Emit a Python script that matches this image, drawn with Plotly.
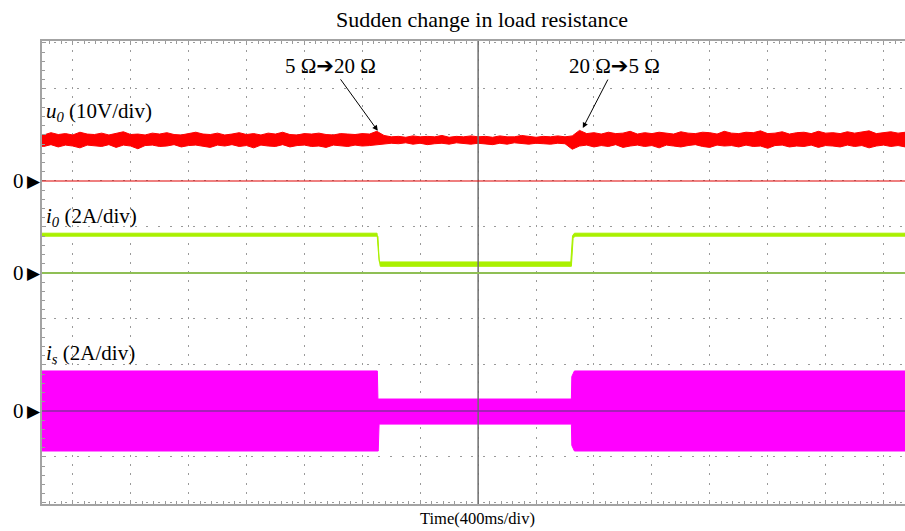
import plotly.graph_objects as go

# ---------------- data ----------------
# time in ms relative to the screen centre (400 ms/div)
x_range_ms = [-3012, 2948]

# u0 noise envelope (V), sampled every 50 ms from -3050 ms
u0_t = [-3050 + 50 * i for i in range(121)]
u0_upper = [10.2, 10.0, 10.5, 10.1, 10.3, 10.0, 10.6, 10.2, 10.1, 10.4, 10.0, 10.3,
            10.7, 10.1, 10.2, 10.0, 10.4, 10.2, 10.5, 10.1, 10.0, 10.3, 10.6, 10.2,
            10.1, 10.4, 10.0, 10.2, 10.5, 10.1, 10.3, 10.0, 10.4, 10.2, 10.6, 10.1,
            10.0, 10.3, 10.2, 10.4, 10.1, 10.0, 10.3, 10.2, 10.1, 10.3, 10.2, 10.8,
            9.9, 9.6, 9.7, 9.5, 9.8, 9.6, 9.7, 9.6, 9.9, 9.5, 9.7, 9.6, 9.8,
            9.6, 9.7, 9.5, 9.8, 9.6, 9.6, 9.9, 9.7, 9.5, 9.7, 9.6, 9.8, 9.6,
            9.8, 11.0, 10.3, 10.5, 10.2, 10.6, 10.3, 10.4, 10.8, 10.2, 10.5, 10.3,
            10.6, 10.4, 10.2, 10.7, 10.4, 10.3, 10.6, 10.5, 10.2, 10.8, 10.4, 10.3,
            10.6, 10.5, 10.9, 10.3, 10.4, 10.7, 10.2, 10.5, 10.6, 10.3, 10.8, 10.4,
            10.5, 10.3, 10.7, 10.4, 10.6, 10.9, 10.3, 10.5, 10.7, 10.4, 10.6]
u0_lower = [7.7, 7.5, 7.9, 7.4, 7.8, 7.6, 7.2, 7.8, 7.7, 7.5, 7.9, 7.3,
            7.8, 7.6, 7.0, 7.7, 7.8, 7.5, 7.6, 7.9, 7.4, 7.7, 7.8, 7.5,
            7.3, 7.8, 7.6, 7.9, 7.5, 7.7, 7.2, 7.8, 7.6, 7.5, 7.9, 7.4,
            7.7, 7.8, 7.5, 7.6, 7.3, 7.8, 7.7, 7.5, 7.8, 7.6, 7.7, 7.8,
            8.0, 8.2, 8.1, 8.3, 8.0, 8.2, 7.9, 8.1, 8.2, 8.0, 8.3, 8.1, 8.0,
            8.2, 8.1, 7.9, 8.2, 8.0, 8.3, 8.1, 8.0, 8.2, 8.1, 8.0, 8.2, 8.1,
            6.9, 7.6, 7.8, 7.4, 7.7, 7.5, 7.9, 7.3, 7.6, 7.8, 7.5, 7.7,
            7.2, 7.8, 7.6, 7.4, 7.7, 7.9, 7.5, 7.3, 7.8, 7.6, 7.7, 7.4,
            7.8, 7.5, 7.6, 7.1, 7.7, 7.8, 7.4, 7.6, 7.5, 7.8, 7.3, 7.7,
            7.6, 7.4, 7.8, 7.5, 7.7, 7.2, 7.6, 7.8, 7.5, 7.7, 7.4]

# i0 band (A)
i0_t_upper = [-3050, -698, -690, -682, 640, 646, 652, 665, 2950]
i0_upper = [1.73, 1.73, 1.00, 0.48, 0.48, 1.30, 1.62, 1.73, 1.73]
i0_t_lower = [-3050, -692, -684, -676, 644, 650, 656, 668, 2950]
i0_lower = [1.60, 1.60, 0.60, 0.29, 0.29, 0.50, 1.50, 1.60, 1.60]

# is envelope (A)
is_t_upper = [-3050, -696, -692, 644, 647, 665, 2950]
is_upper = [1.74, 1.74, 0.52, 0.52, 1.50, 1.74, 1.74]
is_t_lower = [-3050, -690, -684, 644, 647, 665, 2950]
is_lower = [-1.74, -1.74, -0.57, -0.57, -1.50, -1.74, -1.74]

# channel scales: (units per division, zero position in divisions)
u0_scale, u0_offset = 10, 2
i0_scale, i0_offset = 2, 0
is_scale, is_offset = 2, -3
div_range = [-5.022, 5.043]            # screen height, in divisions

# arrow tips of the load-change notes (ms, V on u0)
annot_tips = [(-693, 10.9), (723, 11.5)]

# ---------------- figure ----------------
SERIF = "Liberation Serif, Times New Roman, serif"
GRID = "#9a9a9a"
BORDER = "#a3a3a3"
TICK = "#8c8c8c"

def to_div(vals, scale, offset):
    return [v / scale + offset for v in vals]

def band(t_up, up, t_lo, lo, scale, offset, color):
    y = to_div(up, scale, offset) + to_div(lo, scale, offset)[::-1]
    return go.Scatter(x=list(t_up) + list(t_lo)[::-1], y=y,
                      fill="toself", fillcolor=color, mode="lines",
                      line=dict(color=color, width=1),
                      hoverinfo="skip", showlegend=False)

fig = go.Figure()
fig.add_trace(band(u0_t, u0_upper, u0_t, u0_lower, u0_scale, u0_offset, "#ff0000"))
fig.add_trace(band(i0_t_upper, i0_upper, i0_t_lower, i0_lower, i0_scale, i0_offset, "#aaf000"))
fig.add_trace(band(is_t_upper, is_upper, is_t_lower, is_lower, is_scale, is_offset, "#ff00ff"))

fig.update_layout(
    width=905, height=531,
    margin=dict(l=42, r=0, t=41, b=27),
    paper_bgcolor="white", plot_bgcolor="rgba(0,0,0,0)",
    showlegend=False,
    title=dict(text="Sudden change in load resistance", x=0.5326, xref="container",
               xanchor="center", y=0.964, yref="container", yanchor="middle",
               font=dict(family=SERIF, size=22, color="black")),
    xaxis=dict(range=x_range_ms, tick0=0, dtick=400, showticklabels=False,
               showgrid=True, gridcolor=GRID, gridwidth=1, griddash="2px,7.2px",
               zeroline=False,
               showline=True, linecolor=BORDER, linewidth=2, mirror="allticks",
               ticks="inside", ticklen=4, tickcolor=GRID, tickwidth=1,
               minor=dict(ticks="inside", dtick=80, ticklen=3, tickcolor=GRID, showgrid=False)),
    yaxis=dict(range=div_range, tick0=0, dtick=1, showticklabels=False,
               showgrid=True, gridcolor=GRID, gridwidth=1, griddash="2px,9.6px",
               zeroline=False, showline=True, linecolor=BORDER, linewidth=2,
               ticks="inside", ticklen=4, tickcolor=GRID, tickwidth=1,
               minor=dict(ticks="inside", dtick=0.2, ticklen=3, tickcolor=GRID, showgrid=False)),
)

# centre cross-hair: vertical line drawn over the traces, plus tick marks
fig.add_shape(type="line", xref="x", x0=0, x1=0, yref="paper", y0=0, y1=1,
              line=dict(color="#6e6e6e", width=1.5), layer="above")
xc = (0 - x_range_ms[0]) / (x_range_ms[1] - x_range_ms[0])
yc = (0 - div_range[0]) / (div_range[1] - div_range[0])
for name, side_ticks in (("yaxis2", "inside"), ("yaxis3", "outside")):
    fig.layout[name] = dict(range=div_range, overlaying="y", anchor="free", position=xc,
                            showgrid=False, zeroline=False, showline=False,
                            showticklabels=False, tick0=0, dtick=1,
                            ticks=side_ticks, ticklen=4, tickcolor=TICK,
                            minor=dict(ticks=side_ticks, dtick=0.2, ticklen=4,
                                       tickcolor=TICK))
for name, side_ticks in (("xaxis2", "inside"), ("xaxis3", "outside")):
    fig.layout[name] = dict(range=x_range_ms, overlaying="x", anchor="free", position=yc,
                            showgrid=False, zeroline=False, showline=False,
                            showticklabels=False, tick0=0, dtick=400,
                            ticks=side_ticks, ticklen=4, tickcolor=TICK,
                            minor=dict(ticks=side_ticks, dtick=80, ticklen=4,
                                       tickcolor=TICK))

# channel zero lines and "0▶" markers
for offset, color, w in ((u0_offset, "#e00000", 1.2),
                         (i0_offset, "#8fbf55", 2),
                         (is_offset, "#8a2aa0", 1.5)):
    fig.add_shape(type="line", xref="paper", x0=0, x1=1, yref="y", y0=offset, y1=offset,
                  line=dict(color=color, width=w), layer="above")
    fig.add_annotation(xref="paper", x=0, yref="y", y=offset, text="▶", showarrow=False,
                       xanchor="right", yanchor="middle", borderpad=0,
                       font=dict(family="DejaVu Sans", size=17, color="black"))
    fig.add_annotation(xref="paper", x=0, yref="y", y=offset, text="0", showarrow=False,
                       xanchor="right", yanchor="middle", xshift=-17, borderpad=0,
                       font=dict(family=SERIF, size=21, color="black"))

# channel labels
labels = [("<i>u</i><sub><i>0</i></sub> (10V/div)", 0.847),
          ("<i>i</i><sub><i>0</i></sub> (2A/div)", 0.620),
          ("<i>i</i><sub><i>s</i></sub> (2A/div)", 0.324)]
for txt, py in labels:
    fig.add_annotation(xref="paper", x=0.002, yref="paper", y=py, text=txt,
                       showarrow=False, xanchor="left", yanchor="middle",
                       font=dict(family=SERIF, size=21, color="black"))

# load change arrows
ARW = '<span style="font-family:DejaVu Sans">➔</span>'
texts = ["5 Ω" + ARW + "20 Ω", "20 Ω" + ARW + "5 Ω"]
offsets = [(-47, -65), (32, -62)]
for (tx, tv), txt, (ax, ay) in zip(annot_tips, texts, offsets):
    fig.add_annotation(x=tx, y=tv / u0_scale + u0_offset, xref="x", yref="y", text=txt,
                       showarrow=True, ax=ax, ay=ay, arrowhead=2, arrowsize=1.1,
                       arrowwidth=1, arrowcolor="black", standoff=0,
                       font=dict(family=SERIF, size=21, color="black"))

fig.add_annotation(xref="paper", x=0.505, yref="paper", y=-0.032, text="Time(400ms/div)",
                   showarrow=False, xanchor="center", yanchor="middle",
                   font=dict(family=SERIF, size=16.5, color="black"))

fig.write_html("out.html")
